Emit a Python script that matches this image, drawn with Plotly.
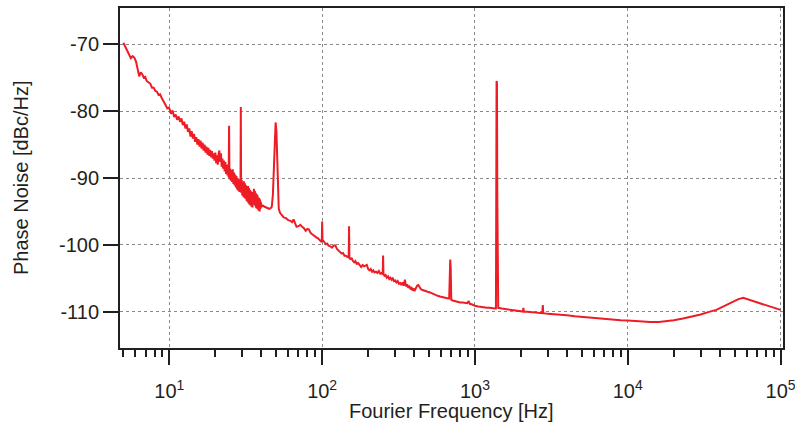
import plotly.graph_objects as go

# Phase noise spectrum: offset frequency [Hz] and single-sideband noise [dBc/Hz]
freq_hz = [
    5.0, 5.15, 5.3, 5.45, 5.6, 5.75, 5.9, 6.05, 6.2, 6.35, 6.5, 6.65, 6.8, 6.95,
    7.1, 7.3, 7.5, 7.7, 7.9, 8.1, 8.3, 8.5, 8.7, 8.9, 9.1, 9.3, 9.5, 9.7, 9.9,
    10.0, 10.25, 10.5, 10.75, 11.0, 11.25, 11.5, 11.75, 12.0, 12.25, 12.5, 12.75,
    13.0, 13.25, 13.5, 13.75, 14.0, 14.25, 14.5, 14.75, 15.0, 15.25, 15.5, 15.75,
    16.0, 16.25, 16.5, 16.75, 17.0, 17.25, 17.5, 17.75, 18.0, 18.25, 18.5, 18.75,
    19.0, 19.25, 19.5, 19.75,
    20.0, 20.25, 20.5, 20.75, 21.0, 21.25, 21.5, 21.75, 22.0, 22.25, 22.5, 22.75,
    23.0, 23.25, 23.5, 23.75, 24.0, 24.25, 24.45, 24.6, 24.75, 25.0, 25.25, 25.5,
    25.75, 26.0, 26.25, 26.5, 26.75, 27.0, 27.25, 27.5, 27.75, 28.0, 28.25, 28.5,
    28.75, 29.0, 29.2, 29.35, 29.5, 29.75, 30.0, 30.25, 30.5, 30.75, 31.0, 31.25,
    31.5, 31.75, 32.0, 32.25, 32.5, 32.75, 33.0, 33.25, 33.5, 33.75, 34.0, 34.25,
    34.5, 34.75, 35.0, 35.25, 35.5, 35.75, 36.0, 36.25, 36.5, 36.75, 37.0, 37.25,
    37.5, 37.75, 38.0, 38.25, 38.5, 38.75, 39.0, 39.25, 39.5, 39.75,
    40.0, 41.0, 42.0, 43.0, 44.0, 45.0, 46.0, 46.8, 47.6, 48.3, 49.0, 49.6,
    50.2, 50.8, 51.4, 52.0, 53.0, 54.5, 56.0, 58.0, 60.0, 62.0, 63.5, 65.0, 66.5,
    68.0, 70.0, 72.0, 74.0, 76.0, 78.0, 80.0, 82.0, 84.0, 86.0, 88.0, 90.0, 92.0,
    94.0, 96.0, 98.5, 99.5, 100.0, 100.5, 102, 104, 106, 108, 110, 113, 116, 119,
    122, 125, 128, 131, 134, 137, 140, 143, 146, 149.2, 150.0, 150.8, 153, 156,
    159, 162, 165, 168, 172, 176, 180, 184, 188, 192, 196, 200, 204, 208, 212, 216,
    220, 225, 230, 235, 240, 245, 249, 250.5, 252, 256, 260, 265, 270, 275, 280,
    285, 290, 295, 300, 306, 312, 318, 324, 330, 336, 342, 348, 354, 360, 366, 372,
    378, 384, 390, 396, 402, 410, 418, 426, 434, 442, 450, 460, 475, 490, 508, 530,
    550, 570, 590, 610, 630, 650, 670, 678, 684, 689, 694, 700, 715, 740, 770, 800,
    830, 860, 890, 910, 925, 960, 1000, 1050, 1100, 1150, 1200, 1250, 1300, 1350,
    1372, 1380, 1385, 1393, 1400, 1408, 1420, 1500, 1600, 1700, 1800, 1900, 2000,
    2060, 2075, 2090, 2200, 2400, 2600, 2760, 2780, 2800, 3000, 3300, 3600, 4000,
    4500, 5000, 6000, 7000, 8000, 9000, 10000, 12000, 14000, 16000, 18000, 20000,
    23000, 26000, 30000, 34000, 38000, 43000, 49000, 53000, 57000, 61000, 66000,
    73000, 80000, 88000, 100000,
]

noise_dbc = [
    -69.8, -70.4, -70.9, -71.5, -72.1, -71.8, -72.0, -72.6, -73.6, -74.8, -74.2,
    -74.5, -75.0, -74.9, -75.5, -75.7, -75.9, -76.5, -76.5, -77.0, -77.1, -77.6,
    -77.5, -78.0, -78.4, -78.6, -79.2, -79.6, -79.5,
    -79.6, -80.4, -79.9, -80.9, -80.5, -81.3, -80.8, -81.6, -81.1, -82.1, -81.6,
    -82.6, -82.0, -83.1, -82.6, -83.8, -83.0, -84.1, -83.4, -84.6, -83.9, -85.0,
    -84.2, -85.3, -84.4, -85.6, -84.7, -85.9, -85.0, -86.2, -85.3, -86.5, -85.5,
    -86.7, -85.8, -86.9, -86.0, -87.1, -86.3, -87.4,
    -86.2, -87.8, -86.6, -88.0, -86.4, -85.9, -87.6, -86.3, -88.3, -87.1, -88.6,
    -87.4, -89.0, -87.6, -89.4, -88.0, -89.6, -88.3, -89.9, -82.2, -90.2, -88.6,
    -90.4, -88.8, -90.6, -88.7, -90.9, -89.2, -91.1, -89.5, -91.4, -89.7, -91.7,
    -90.0, -91.9, -90.2, -92.1, -90.4, -91.8, -79.4, -92.2, -90.3, -92.6, -90.6,
    -92.8, -90.5, -93.0, -90.8, -93.1, -91.1, -93.4, -91.3, -93.6, -91.2, -93.8,
    -91.5, -94.0, -91.8, -94.1, -92.0, -94.3, -92.1, -94.4, -92.3, -94.0, -91.6,
    -93.6, -91.9, -94.2, -92.2, -94.5, -92.4, -94.6, -92.6, -94.7, -92.9, -94.9,
    -93.0, -95.0, -93.2, -94.6, -93.6,
    -94.3, -94.1, -94.3, -94.4, -94.5, -94.6, -94.5, -94.3, -92.5, -88.0,
    -83.5, -81.7, -83.0, -88.0, -93.0, -94.6, -95.2, -95.5, -95.9, -96.0, -96.3,
    -96.4, -96.6, -96.2, -96.9, -97.3, -97.2, -97.0, -97.3, -97.5, -97.9, -97.6,
    -97.7, -98.2, -98.4, -98.6, -98.7, -98.9, -99.0, -99.2, -99.5, -99.4, -96.5,
    -99.4, -99.4, -99.6, -99.9, -99.8, -100.1, -100.2, -100.4, -100.1, -100.1,
    -100.6, -100.8, -101.1, -101.3, -101.2, -101.6, -101.6, -101.8, -101.7, -97.2,
    -102.0, -102.1, -102.0, -102.4, -102.6, -102.4, -102.8, -102.7, -103.1, -103.3,
    -103.0, -103.2, -103.1, -103.0, -103.6, -103.8, -103.6, -104.0, -103.8, -104.1,
    -104.0, -104.2, -103.9, -104.3, -104.2, -104.4, -101.6, -104.4, -104.6, -104.5,
    -104.9, -104.7, -105.1, -104.9, -105.2, -105.0, -105.4, -105.3, -105.6, -105.4,
    -105.8, -105.7, -106.0, -105.6, -106.1, -105.2, -106.2, -105.9, -106.4, -106.2,
    -106.5, -106.3, -106.8, -106.5, -106.9, -106.5, -106.1, -106.0, -106.4, -106.6,
    -106.7, -106.8, -106.9, -107.0, -107.1, -107.3, -107.5, -107.6, -107.7, -107.8,
    -107.9, -108.0, -108.0, -108.0, -103.5, -102.2, -103.5, -108.2, -108.3, -108.4,
    -108.5, -108.6, -108.6, -108.7, -108.7, -108.4, -108.8, -108.9, -109.1, -109.2,
    -109.3, -109.3, -109.4, -109.4, -109.5, -109.5, -109.5, -90.0, -75.5, -75.7,
    -92.0, -109.3, -109.4, -109.5, -109.6, -109.7, -109.8, -109.85, -109.9, -109.95,
    -109.4, -109.95, -110.0, -110.05, -110.15, -110.2, -109.0, -110.2, -110.3,
    -110.35, -110.45, -110.5, -110.65, -110.75, -110.95, -111.05, -111.15, -111.25,
    -111.3, -111.45, -111.5, -111.5, -111.4, -111.25, -111.0, -110.75, -110.4,
    -110.0, -109.7, -109.1, -108.5, -108.1, -107.9, -108.1, -108.4, -108.7, -109.0,
    -109.3, -109.7,
]

# Axis ticks
x_major_ticks = [10, 100, 1000, 10000, 100000]
x_major_labels = ["10<sup>1</sup>", "10<sup>2</sup>", "10<sup>3</sup>",
                  "10<sup>4</sup>", "10<sup>5</sup>"]
x_minor_ticks = [m * 10 ** e for e in range(0, 5) for m in range(2, 10)
                 if 4.75 <= m * 10 ** e <= 100000]
y_ticks = [-110, -100, -90, -80, -70]
y_labels = ["-110", "-100", "-90", "-80", "-70"]

INK = "#231f20"
RED = "#ee1c25"
FONT = "Liberation Sans, Arial, Helvetica, sans-serif"

fig = go.Figure()
fig.add_trace(go.Scatter(
    x=freq_hz, y=noise_dbc, mode="lines",
    line=dict(color=RED, width=2),
    showlegend=False, hoverinfo="x+y",
))

fig.update_layout(
    width=795, height=425, autosize=False,
    margin=dict(l=120, r=12, t=8, b=77, pad=0),
    paper_bgcolor="white", plot_bgcolor="white",
    font=dict(family=FONT, size=20, color=INK),
    xaxis=dict(
        type="log", range=[0.677, 5.016], automargin=False,
        tickvals=x_major_ticks, ticktext=x_major_labels,
        ticklabeloverflow="allow", ticklabelstandoff=9,
        ticks="outside", ticklen=15, tickwidth=2, tickcolor=INK,
        minor=dict(tickvals=x_minor_ticks, ticks="outside", ticklen=7,
                   tickwidth=2, tickcolor=INK, showgrid=False),
        showline=True, linecolor=INK, linewidth=2, mirror=True,
        showgrid=True, gridcolor="#8a8a8a", gridwidth=1, griddash="dot",
        zeroline=False, tickfont=dict(size=20),
    ),
    yaxis=dict(
        range=[-115.4, -64.6], automargin=False,
        tickvals=y_ticks, ticktext=y_labels,
        ticks="outside", ticklen=15, tickwidth=2, tickcolor=INK,
        showline=True, linecolor=INK, linewidth=2, mirror=True,
        showgrid=True, gridcolor="#8a8a8a", gridwidth=1, griddash="dot",
        zeroline=False, tickfont=dict(size=20),
    ),
    annotations=[
        dict(text="Fourier Frequency [Hz]", xref="paper", yref="paper",
             x=0.5, y=-0.185, xanchor="center", yanchor="middle",
             showarrow=False, font=dict(size=20, color=INK, family=FONT)),
        dict(text="Phase Noise [dBc/Hz]", xref="paper", yref="paper",
             x=-0.1493, y=0.5, xanchor="center", yanchor="middle",
             textangle=-90, showarrow=False,
             font=dict(size=20, color=INK, family=FONT)),
    ],
)

fig.write_html("out.html")
